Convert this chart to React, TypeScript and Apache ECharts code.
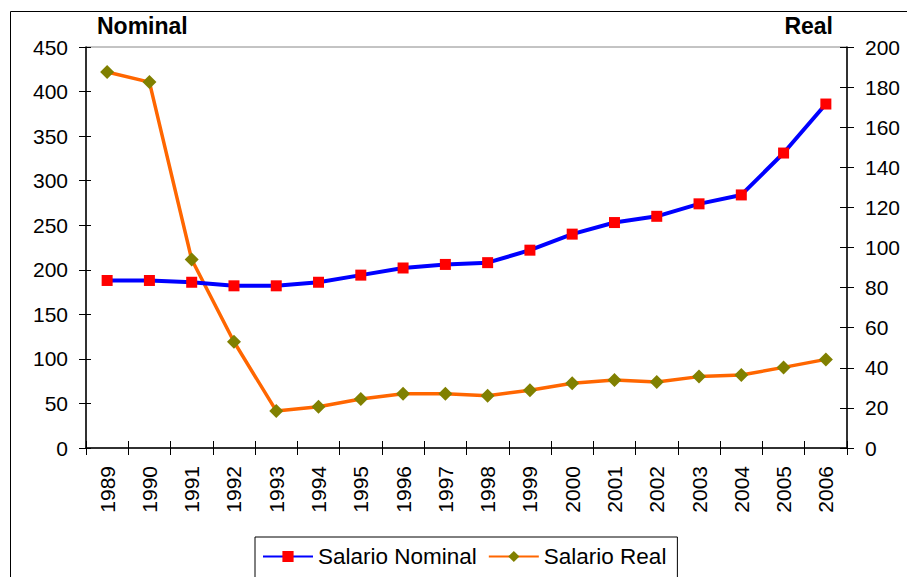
import React, { useEffect, useRef } from "react";
import * as echarts from "echarts";

const years = ["1989","1990","1991","1992","1993","1994","1995","1996","1997","1998","1999","2000","2001","2002","2003","2004","2005","2006"];
const salarioNominal = [188, 188, 186, 182, 182, 186, 194, 202, 206, 208, 222, 240, 253, 260, 274, 284, 331, 386];
const salarioReal = [187.5, 182.5, 94, 53, 18.5, 20.6, 24.4, 27.1, 27.1, 26.1, 28.8, 32.3, 33.9, 32.9, 35.6, 36.4, 40.2, 44.2];
const leftTicks = { min: 0, max: 450, interval: 50 };
const rightTicks = { min: 0, max: 200, interval: 20 };

const FONT = "'Liberation Sans', Arial, sans-serif";

export default function App() {
  const ref = useRef<HTMLDivElement>(null);
  useEffect(() => {
    if (!ref.current) return;
    const chart = echarts.init(ref.current, null, { renderer: "svg" });
    const labelStyle = { color: "#000", fontSize: 21, fontFamily: FONT };
    chart.setOption({
      animation: false,
      backgroundColor: "#fff",
      grid: { left: 86, right: 60, top: 47, bottom: 129, show: true, borderColor: "#888", borderWidth: 1 },
      graphic: [
        { type: "rect", shape: { x: 10.5, y: 11.5, width: 1000, height: 1000 }, style: { fill: "none", stroke: "#000", lineWidth: 1 }, z: -1 },
        { type: "text", x: 97, y: 14, style: { text: "Nominal", font: `bold 23px ${FONT}`, fill: "#000" } },
        { type: "text", x: 833, y: 14, style: { text: "Real", font: `bold 23px ${FONT}`, fill: "#000", align: "right" } },
      ],
      legend: {
        left: 255,
        top: 537,
        padding: [8, 11, 12, 7],
        itemGap: 11,
        itemWidth: 50,
        itemHeight: 14,
        borderColor: "#000",
        borderWidth: 1,
        textStyle: { color: "#000", fontSize: 22.5, fontFamily: FONT },
        data: ["Salario Nominal", "Salario Real"],
      },
      xAxis: [
        {
          type: "category",
          data: years,
          boundaryGap: true,
          axisLine: { lineStyle: { color: "#000", width: 1.5 } },
          axisTick: { show: true, length: 7, interval: 0, lineStyle: { color: "#000" } },
          axisLabel: { ...labelStyle, rotate: 90, interval: 0, margin: 18 },
        },
        {
          type: "category",
          data: years,
          position: "bottom",
          boundaryGap: true,
          axisLine: { show: false },
          axisTick: { show: true, inside: true, length: 7, interval: 0, lineStyle: { color: "#000" } },
          axisLabel: { show: false },
        },
      ],
      yAxis: [
        {
          type: "value",
          position: "left",
          ...leftTicks,
          axisLine: { show: true, lineStyle: { color: "#000", width: 1.5 } },
          axisTick: { show: true, length: 7, lineStyle: { color: "#000" } },
          axisLabel: { ...labelStyle, margin: 18 },
          splitLine: { show: false },
        },
        {
          type: "value",
          position: "right",
          ...rightTicks,
          axisLine: { show: true, lineStyle: { color: "#000", width: 1.5 } },
          axisTick: { show: true, length: 7, lineStyle: { color: "#000" } },
          axisLabel: { ...labelStyle, margin: 18 },
          splitLine: { show: false },
        },
        {
          type: "value",
          position: "left",
          ...leftTicks,
          axisLine: { show: false },
          axisTick: { show: true, inside: true, length: 5, lineStyle: { color: "#000" } },
          axisLabel: { show: false },
          splitLine: { show: false },
        },
        {
          type: "value",
          position: "right",
          ...rightTicks,
          axisLine: { show: false },
          axisTick: { show: true, inside: true, length: 7, lineStyle: { color: "#000" } },
          axisLabel: { show: false },
          splitLine: { show: false },
        },
      ],
      series: [
        {
          name: "Salario Nominal",
          type: "line",
          yAxisIndex: 0,
          data: salarioNominal,
          lineStyle: { color: "#0000FF", width: 4 },
          itemStyle: { color: "#FF0000" },
          symbol: "rect",
          symbolSize: 11,
          z: 3,
        },
        {
          name: "Salario Real",
          type: "line",
          yAxisIndex: 1,
          data: salarioReal,
          lineStyle: { color: "#FF6600", width: 3.5 },
          itemStyle: { color: "#808000" },
          symbol: "diamond",
          symbolSize: 14,
          z: 2,
        },
      ],
    });
    return () => chart.dispose();
  }, []);
  return <div ref={ref} style={{ position: "fixed", left: 0, top: 0, width: 907, height: 577 }} />;
}
